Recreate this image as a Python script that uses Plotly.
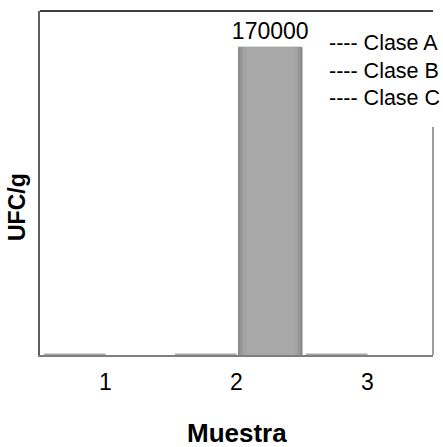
import plotly.graph_objects as go

# Sample counts per muestra (UFC/g)
muestras = ["1", "2", "3"]
serie_base = [0, 0, 0]
serie_ufc = [None, 170000, None]
clases = ["Clase A", "Clase B", "Clase C"]

FONT = "Liberation Sans, Arial, sans-serif"
W, H = 443, 447
L, R, T, B = 40, 10, 11, 92

fig = go.Figure()

# zero-valued series: only its flat outline shows along the base
fig.add_trace(go.Bar(
    x=muestras, y=serie_base, offset=-0.47, width=0.47,
    marker=dict(color="#a8a8a8", line=dict(color="#a8a8a8", width=3)),
    cliponaxis=False, showlegend=False, hoverinfo="skip",
))

# main bar drawn in nested layers for a soft bevel
fig.add_trace(go.Bar(
    x=muestras, y=serie_ufc, offset=0.015, width=0.485,
    marker=dict(color="#8c8c8c", line=dict(color="#888888", width=1)),
    text=[f"{v}" if v is not None else "" for v in serie_ufc],
    textposition="outside", texttemplate="%{text}",
    constraintext="none",
    textfont=dict(family=FONT, size=23, color="#000000"),
    cliponaxis=False, showlegend=False,
))
fig.add_trace(go.Bar(
    x=muestras, y=serie_ufc, offset=0.03, width=0.455,
    marker=dict(color="#999999", line=dict(width=0)),
    showlegend=False, hoverinfo="skip",
))
fig.add_trace(go.Bar(
    x=muestras, y=serie_ufc, offset=0.05, width=0.415,
    marker=dict(color="#a3a3a3", line=dict(width=0)),
    showlegend=False, hoverinfo="skip",
))
fig.add_trace(go.Bar(
    x=muestras, y=serie_ufc, offset=0.075, width=0.365,
    marker=dict(color="#a8a8a8", line=dict(width=0)),
    showlegend=False, hoverinfo="skip",
))

fig.update_layout(
    width=W, height=H,
    margin=dict(l=L, r=R, t=T, b=B),
    barmode="overlay",
    plot_bgcolor="white", paper_bgcolor="white",
    font=dict(family=FONT, color="#000000"),
    xaxis=dict(
        type="category", range=[-0.5, 2.5],
        showline=True, linecolor="#7f7f7f", linewidth=1.5,
        showgrid=False, ticks="", zeroline=False,
        tickfont=dict(family=FONT, size=23, color="#000000"),
        ticklabelstandoff=6,
    ),
    yaxis=dict(
        range=[0, 190000],
        showline=True, linecolor="#5f5f5f", linewidth=1.5,
        showgrid=False, zeroline=False, showticklabels=False, ticks="",
    ),
)

# top and right edges of the plot frame (right edge stops below the key)
ph = H - T - B
pw = W - L - R
fig.add_shape(type="line", xref="paper", yref="paper",
              x0=0, x1=1, y0=1, y1=1, line=dict(color="#000000", width=1.5))
fig.add_shape(type="line", xref="paper", yref="paper",
              x0=1, x1=1, y0=0, y1=(H - B - 127) / ph,
              line=dict(color="#7f7f7f", width=1.5))

# key entries for the class limits
for i, c in enumerate(clases):
    py = 43 + i * 27.5
    fig.add_annotation(
        xref="paper", yref="paper",
        x=(327 - L) / pw, y=(H - B - py) / ph,
        xanchor="left", yanchor="middle",
        text=f"---- {c}", showarrow=False,
        font=dict(family=FONT, size=21.5, color="#000000"),
    )

# axis titles
fig.add_annotation(
    xref="paper", yref="paper", x=0.5, y=(H - B - 433) / ph,
    xanchor="center", yanchor="middle", text="<b>Muestra</b>",
    showarrow=False, font=dict(family=FONT, size=26, color="#000000"),
)
fig.add_annotation(
    xref="paper", yref="paper", x=(17 - L) / pw, y=(H - B - 207) / ph,
    xanchor="center", yanchor="middle", text="<b>UFC/g</b>", textangle=-90,
    showarrow=False, font=dict(family=FONT, size=23, color="#000000"),
)

fig.write_html("out.html")
